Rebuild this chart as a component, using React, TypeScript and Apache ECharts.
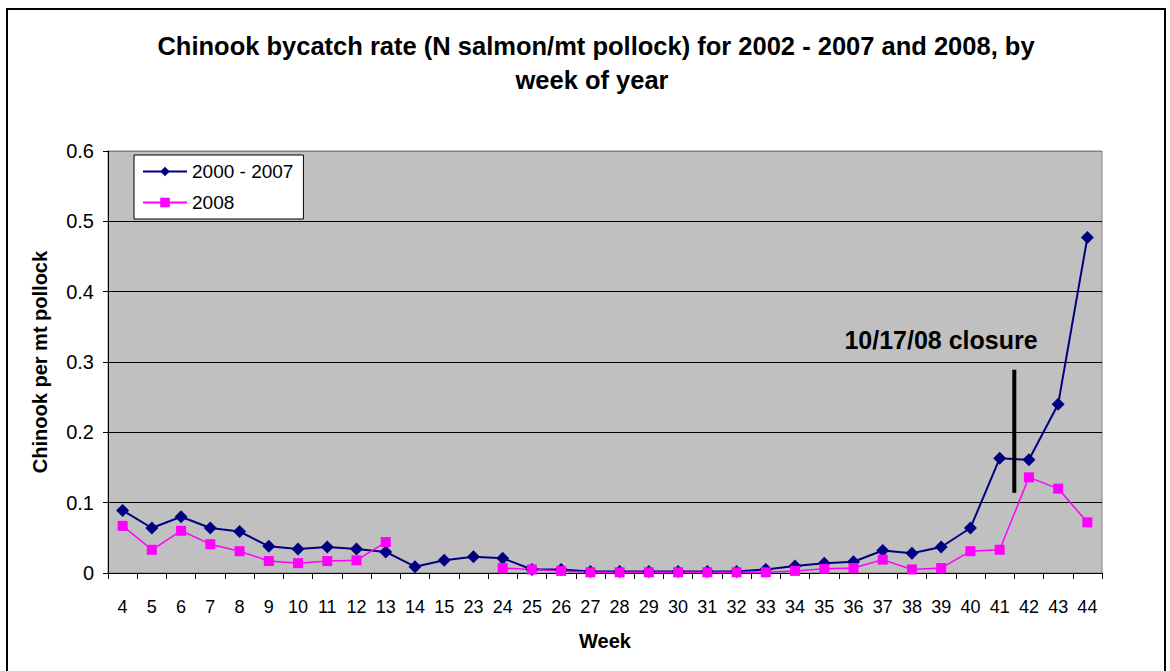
import React, { useEffect, useRef } from "react";
import * as echarts from "echarts";

const weeks = ["4","5","6","7","8","9","10","11","12","13","14","15","23","24","25","26","27","28","29","30","31","32","33","34","35","36","37","38","39","40","41","42","43","44"];
const rate2000to2007 = [0.089,0.064,0.080,0.064,0.059,0.038,0.034,0.037,0.034,0.030,0.009,0.018,0.023,0.021,0.005,0.005,0.002,0.002,0.002,0.002,0.002,0.002,0.005,0.010,0.014,0.016,0.032,0.028,0.037,0.064,0.163,0.161,0.240,0.477];
const rate2008 = [0.067,0.033,0.060,0.041,0.031,0.017,0.014,0.017,0.018,0.044,null,null,null,0.007,0.005,0.003,0.001,0.001,0.001,0.001,0.001,0.001,0.001,0.003,0.006,0.007,0.019,0.005,0.007,0.031,0.033,0.136,0.120,0.072];
const closureX = 30.5; // between week 41 and 42 (category index)
const closureY = [0.114, 0.289];
const seriesNames = ["2000 - 2007", "2008"];
const titleLines = ["Chinook bycatch rate (N salmon/mt pollock) for 2002 - 2007 and 2008, by", "week of year"];
const closureLabel = "10/17/08 closure";

const FONT = "'Liberation Sans', Arial, Helvetica, sans-serif";

export default function App() {
  const ref = useRef<HTMLDivElement>(null);
  useEffect(() => {
    document.body.style.margin = "0";
    const chart = echarts.init(ref.current!, undefined, { renderer: "svg" });
    chart.setOption({
      animation: false,
      backgroundColor: "#ffffff",
      textStyle: { fontFamily: FONT },
      grid: {
        left: 108, top: 151, right: 68, bottom: 98,
        show: true, backgroundColor: "#C0C0C0", borderColor: "#808080", borderWidth: 1,
      },
      legend: {
        data: seriesNames,
        orient: "vertical",
        left: 134, top: 155,
        backgroundColor: "#ffffff",
        borderColor: "#000000", borderWidth: 1,
        padding: [7, 10, 7, 8],
        itemGap: 12,
        itemWidth: 44, itemHeight: 12,
        textStyle: { fontSize: 19, color: "#000", fontFamily: FONT },
      },
      xAxis: [
        {
          type: "category",
          data: weeks,
          boundaryGap: true,
          name: "Week",
          nameLocation: "middle",
          nameGap: 58,
          nameTextStyle: { fontSize: 20, fontWeight: "bold", color: "#000", fontFamily: FONT },
          axisLine: { lineStyle: { color: "#000", width: 1 } },
          axisTick: { show: true, interval: 0, length: 6, lineStyle: { color: "#000" } },
          axisLabel: { interval: 0, fontSize: 18, color: "#000", margin: 25, fontFamily: FONT },
          splitLine: { show: false },
        },
        {
          type: "value",
          min: -0.5, max: weeks.length - 0.5,
          show: false,
          position: "bottom",
          splitLine: { show: false },
        },
      ],
      yAxis: {
        type: "value",
        min: 0, max: 0.6, interval: 0.1,
        name: "Chinook per mt pollock",
        nameLocation: "middle",
        nameGap: 58,
        nameTextStyle: { fontSize: 20, fontWeight: "bold", color: "#000", fontFamily: FONT },
        axisLine: { show: true, onZero: false, lineStyle: { color: "#000", width: 1 } },
        axisTick: { show: true, length: 5, lineStyle: { color: "#000" } },
        axisLabel: { fontSize: 20, color: "#000", margin: 14, fontFamily: FONT },
        splitLine: { show: true, lineStyle: { color: ["#000", "#000", "#000", "#000", "#000", "#000", "#808080"], width: 1 } },
      },
      series: [
        {
          name: seriesNames[0],
          type: "line",
          data: rate2000to2007,
          symbol: "diamond",
          symbolSize: 13,
          itemStyle: { color: "#000080" },
          lineStyle: { color: "#000080", width: 2 },
        },
        {
          name: seriesNames[1],
          type: "line",
          data: rate2008,
          symbol: "rect",
          symbolSize: 10,
          connectNulls: false,
          itemStyle: { color: "#FF00FF" },
          lineStyle: { color: "#FF00FF", width: 1.5 },
        },
        {
          name: "closure",
          type: "line",
          xAxisIndex: 1,
          data: [[closureX, closureY[0]], [closureX, closureY[1]]],
          symbol: "none",
          silent: true,
          lineStyle: { color: "#000", width: 4 },
          z: 5,
        },
      ],
      graphic: [
        {
          type: "rect",
          shape: { x: 7, y: 9, width: 1158, height: 680 },
          style: { fill: "none", stroke: "#000", lineWidth: 2 },
          silent: true,
          z: -10,
        },
        {
          type: "text",
          x: 596, y: 46,
          style: { text: titleLines[0], font: `bold 25.5px ${FONT}`, fill: "#000", textAlign: "center", textVerticalAlign: "middle" },
        },
        {
          type: "text",
          x: 592, y: 80,
          style: { text: titleLines[1], font: `bold 25.5px ${FONT}`, fill: "#000", textAlign: "center", textVerticalAlign: "middle" },
        },
        {
          type: "text",
          x: 941, y: 340,
          style: { text: closureLabel, font: `bold 25px ${FONT}`, fill: "#000", textAlign: "center", textVerticalAlign: "middle" },
          z: 100,
        },
      ],
    });
    return () => chart.dispose();
  }, []);
  return <div ref={ref} style={{ width: 1170, height: 671 }} />;
}
